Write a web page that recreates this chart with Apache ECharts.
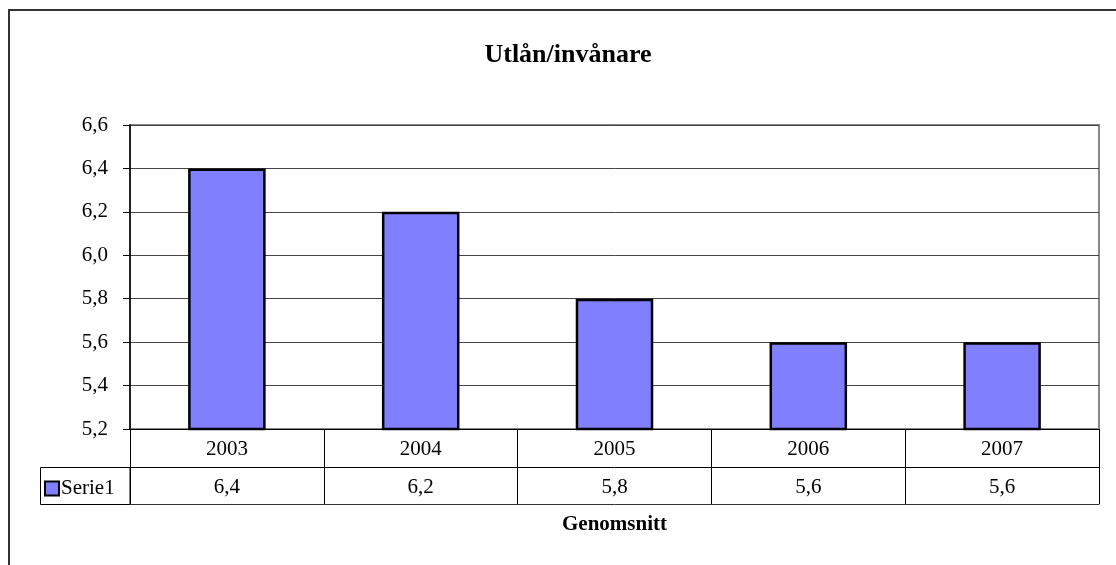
<!DOCTYPE html>
<html>
<head>
<meta charset="utf-8">
<script src="https://cdn.jsdelivr.net/npm/echarts@6/dist/echarts.min.js"></script>
<style>
html,body{margin:0;padding:0;background:#fff;}
#chart{width:1116px;height:565px;}
</style>
</head>
<body>
<div id="chart"></div>
<script>
const categories = ['2003', '2004', '2005', '2006', '2007'];
const values = [6.4, 6.2, 5.8, 5.6, 5.6];
const seriesName = 'Serie1';
const chartTitle = 'Utlån/invånare';
const axisTitle = 'Genomsnitt';
const yMin = 5.2, yMax = 6.6, yStep = 0.2;

const fmt = v => Number(v).toFixed(1).replace('.', ',');
const FONT = 'Liberation Serif';

const chart = echarts.init(document.getElementById('chart'));
chart.setOption({
  animation: false,
  backgroundColor: '#fff',
  textStyle: { fontFamily: FONT, color: '#000' },
  title: {
    text: chartTitle,
    left: 568, top: 42, textAlign: 'center', padding: 0,
    textStyle: { fontFamily: FONT, fontSize: 26, fontWeight: 'bold', color: '#000' }
  },
  legend: {
    data: [seriesName],
    left: 44, top: 478, padding: 0,
    icon: 'rect', itemWidth: 14, itemHeight: 14, itemGap: 4,
    textStyle: { fontFamily: FONT, fontSize: 21, color: '#000', padding: [0, 0, 0, -3] }
  },
  grid: {
    left: 130, top: 125, right: 17, bottom: 136,
    show: true, borderColor: '#888', borderWidth: 2
  },
  xAxis: [
    {
      type: 'category', data: categories, position: 'bottom',
      axisLine: { show: true, lineStyle: { color: '#000', width: 1 } },
      axisTick: { show: true, length: 75, lineStyle: { color: '#000', width: 1 } },
      axisLabel: { fontFamily: FONT, fontSize: 21, color: '#000', margin: 10 }
    },
    {
      type: 'category', data: values.map(fmt), position: 'bottom', offset: 38,
      axisLine: { show: true, lineStyle: { color: '#000', width: 1 } },
      axisTick: { show: false },
      axisLabel: { fontFamily: FONT, fontSize: 21, color: '#000', margin: 10 }
    },
    {
      type: 'category', data: categories, position: 'bottom', offset: 75,
      axisLine: { show: true, lineStyle: { color: '#333', width: 1 } },
      axisTick: { show: false },
      axisLabel: { show: false },
      name: axisTitle, nameLocation: 'middle', nameGap: 10,
      nameTextStyle: { fontFamily: FONT, fontSize: 21, fontWeight: 'bold', color: '#000', verticalAlign: 'top' }
    }
  ],
  yAxis: {
    type: 'value', min: yMin, max: yMax, interval: yStep,
    axisLine: { show: true, lineStyle: { color: '#000', width: 1.5 } },
    axisTick: { show: true, length: 7, lineStyle: { color: '#000' } },
    axisLabel: { fontFamily: FONT, fontSize: 21, color: '#000', margin: 22, formatter: fmt },
    splitLine: { show: true, lineStyle: { color: '#444', width: 1 } }
  },
  series: [{
    name: seriesName, type: 'bar', data: values, barWidth: '40%',
    itemStyle: { color: '#8080FF', borderColor: '#000', borderWidth: 2.5 }
  }],
  graphic: [
    { type: 'rect', shape: { x: 9, y: 10, width: 1200, height: 700 }, style: { fill: 'none', stroke: '#333', lineWidth: 2 }, silent: true, z: -1 },
    { type: 'rect', shape: { x: 40.5, y: 467.5, width: 89.5, height: 37 }, style: { fill: 'none', stroke: '#000', lineWidth: 1 }, silent: true }
  ]
});
</script>
</body>
</html>
